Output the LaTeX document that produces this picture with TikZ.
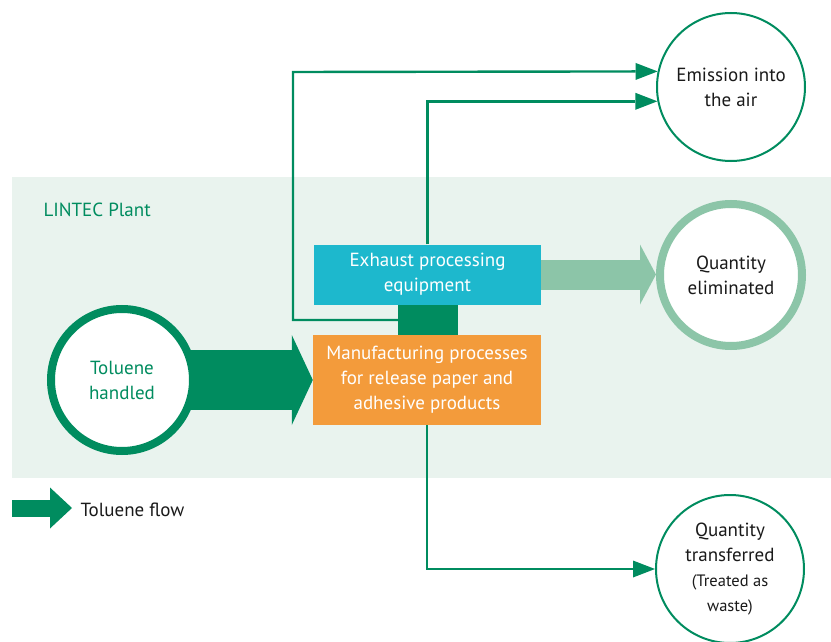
\documentclass[tikz,border=0pt]{standalone}
\usepackage{fontspec}
\setmainfont{PT Sans}
\usetikzlibrary{arrows.meta}
\definecolor{tolgreen}{HTML}{008C5F}
\definecolor{palegreen}{HTML}{8CC5A8}
\definecolor{plantbg}{HTML}{E9F3EE}
\definecolor{exhaustcyan}{HTML}{1DB8CD}
\definecolor{makeorange}{HTML}{F39B3B}
\definecolor{textgray}{HTML}{1A1A1A}
\pgfdeclarelayer{plantlayer}
\pgfdeclarelayer{arrowlayer}
\pgfsetlayers{plantlayer,arrowlayer,main}
\tikzset{
    every node/.style={font=\fontsize{19}{25}\selectfont, align=center},
    procbox/.style={draw=none, text=white, inner sep=0pt},
    thickring/.style={shape=circle, fill=white, line width=8pt, inner sep=0pt, minimum size=142pt},
    thinring/.style={shape=circle, fill=white, draw=tolgreen, line width=2pt, inner sep=0pt, minimum size=148pt, text=textgray},
    flow/.style={draw=tolgreen, line width=2.4pt, -{Triangle[length=22pt,width=17pt,line width=0pt]}},
    bigflow/.style={line width=#1, -{Triangle[length=21pt,width=90pt,line width=0pt]}}
}
\begin{document}
\begin{tikzpicture}[x=1pt, y=-1pt]
        \useasboundingbox (0,0) rectangle (831,642);
        \begin{pgfonlayer}{plantlayer}
        \fill[plantbg] (12,177) rectangle (831,478);
        \end{pgfonlayer}
        \node[text=tolgreen, anchor=west] (plant) at (40,210) {LINTEC Plant};
        \node[procbox, fill=exhaustcyan, minimum width=227pt, minimum height=60pt] (exhaust) at (427.5,274.5) {Exhaust processing\\equipment};
        \node[procbox, fill=makeorange, minimum width=228pt, minimum height=90pt] (make) at (427,380) {Manufacturing processes\\for release paper and\\adhesive products};
        \node[procbox, fill=tolgreen, minimum width=60pt, minimum height=30pt] (duct) at (428,320) {};
        \node[thickring, draw=tolgreen, text=tolgreen] (handled) at (122,380) {Toluene\\handled};
        \node[thinring] (emission) at (731,87) {Emission into\\the air};
        \node[thickring, draw=palegreen, text=textgray] (eliminated) at (731,275) {Quantity\\eliminated};
        \node[thinring] (transfer) at (730,569) {Quantity\\transferred\\{\fontsize{16.5}{26}\selectfont (Treated as}\\{\fontsize{16.5}{22}\selectfont waste)}};
        \coordinate (bend) at (293,72);
        \draw[flow] (duct.west) -| (bend) -- (emission.168.5);
        \draw[flow] (exhaust.north) |- (emission.191.5);
        \draw[flow] (make.south) |- (transfer.west);
        \begin{pgfonlayer}{arrowlayer}
        \draw[bigflow=60pt, tolgreen] (handled.center) -- (make.west);
        \end{pgfonlayer}
        \draw[palegreen, line width=30pt, -{Triangle[length=16pt,width=60pt,line width=0pt]}] (exhaust.east) -- (exhaust.east -| eliminated.west);
        \coordinate (legstart) at (12,508);
        \coordinate (legend) at (72,508);
        \draw[tolgreen, line width=17pt, -{Triangle[length=22pt,width=41pt,line width=0pt]}] (legstart) -- (legend);
        \node[anchor=west, text=textgray] (legtext) at (77,510) {Toluene flow};
    \end{tikzpicture}
\end{document}
